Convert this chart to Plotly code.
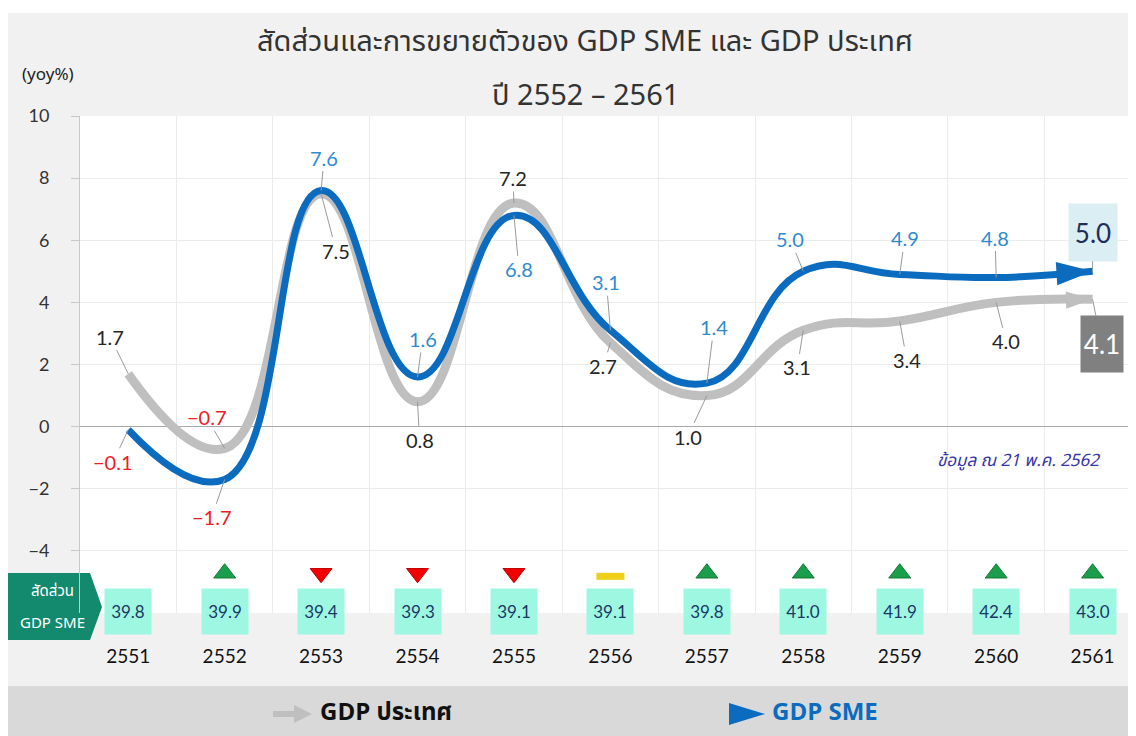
import plotly.graph_objects as go

# ---------------- data ----------------
years = ["2551", "2552", "2553", "2554", "2555", "2556", "2557", "2558", "2559", "2560", "2561"]
gdp_thai = [1.7, -0.7, 7.5, 0.8, 7.2, 2.7, 1.0, 3.1, 3.4, 4.0, 4.1]
gdp_sme = [-0.1, -1.7, 7.6, 1.6, 6.8, 3.1, 1.4, 5.0, 4.9, 4.8, 5.0]
sme_share = [39.8, 39.9, 39.4, 39.3, 39.1, 39.1, 39.8, 41.0, 41.9, 42.4, 43.0]
y_ticks = [-4, -2, 0, 2, 4, 6, 8, 10]

title_1 = "สัดส่วนและการขยายตัวของ GDP SME และ GDP ประเทศ"
title_2 = "ปี 2552 – 2561"
y_title = "(yoy%)"
note = "ข้อมูล ณ 21 พ.ค. 2562"
share_label = ["สัดส่วน", "GDP SME"]
name_thai = "GDP ประเทศ"
name_sme = "GDP SME"

# ---------------- layout geometry (page has an 8px body margin) ----------------
OX, OY = 8, 8
W, H = 1136 - OX, 736 - OY
L, R, T, B = 80 - OX, 0, 116 - OY, 736 - 613
PW, PH = W - L - R, H - T - B
SCR_L, SCR_B = 80, 613  # plot left / bottom in screen px


def px(x):  # screen px -> paper x
    return (x - SCR_L) / PW


def py(y):  # screen px -> paper y
    return (SCR_B - y) / PH


FONT = "Noto Sans Thai, Tahoma, Lato, Noto Sans, sans-serif"
NUMFONT = "Lato, Noto Sans Thai, sans-serif"

C_GRAY = "#bfbfbf"
C_BLUE = "#0b6cbf"
C_BLUE_TXT = "#2f8bd0"
C_RED = "#ee1c25"

n = len(years)
fig = go.Figure()

# gray line (GDP ประเทศ)
fig.add_trace(go.Scatter(
    x=years, y=gdp_thai, mode="lines+markers", name=name_thai,
    line=dict(color=C_GRAY, width=9, shape="spline", smoothing=1.3),
    marker=dict(symbol="arrow", angleref="previous", color=C_GRAY, opacity=1,
                line=dict(width=0), size=[0] * (n - 1) + [28]),
    showlegend=False, hoverinfo="skip"))

# blue line (GDP SME)
fig.add_trace(go.Scatter(
    x=years, y=gdp_sme, mode="lines+markers", name=name_sme,
    line=dict(color=C_BLUE, width=7, shape="spline", smoothing=1.3),
    marker=dict(symbol="arrow", angleref="previous", color=C_BLUE, opacity=1,
                line=dict(width=0), size=[0] * (n - 1) + [38]),
    showlegend=False, hoverinfo="skip"))

# share change indicators
up_x, dn_x, fl_x = [], [], []
for i in range(1, n):
    d = round(sme_share[i] - sme_share[i - 1], 1)
    (up_x if d > 0 else dn_x if d < 0 else fl_x).append(years[i])
IND_Y = -4.72
fig.add_trace(go.Scatter(x=up_x, y=[IND_Y] * len(up_x), mode="markers",
                         marker=dict(symbol="triangle-up", size=19, color="#1b9e4b",
                                     line=dict(color="#137a38", width=1)),
                         showlegend=False, hoverinfo="skip", cliponaxis=False))
fig.add_trace(go.Scatter(x=dn_x, y=[IND_Y] * len(dn_x), mode="markers",
                         marker=dict(symbol="triangle-down", size=19, color="#f00000",
                                     line=dict(color="#c00000", width=1)),
                         showlegend=False, hoverinfo="skip", cliponaxis=False))
fig.add_trace(go.Scatter(x=fl_x, y=[IND_Y - 0.1] * len(fl_x), mode="markers",
                         marker=dict(symbol="line-ew", size=20,
                                     line=dict(color="#f0cf1a", width=7)),
                         showlegend=False, hoverinfo="skip", cliponaxis=False))

annotations = []

# value labels: offsets (px) from the data point to the label
thai_off = [(-18, -37), (-18, -31), (15, 57), (2, 38), (-1, -25), (-7, 23),
            (-19, 41), (-6, 37), (7, 39), (10, 39), (9, 45)]
sme_off = [(-15, 32), (-13, 38), (3, -33), (5, -38), (5, 54), (-4, -48),
           (7, -56), (-13, -32), (5, -36), (-1, -40), (0, -39)]


def fmt(v):
    return f"{v:.1f}".replace("-", "−")


for i in range(n):
    v = gdp_thai[i]
    ax, ay = thai_off[i]
    last = i == n - 1
    a = dict(x=i, y=v, xref="x", yref="y", ax=ax, ay=ay, text=fmt(v),
             xanchor="center", yanchor="middle",
             showarrow=True, arrowhead=0, arrowwidth=1, arrowcolor="#9a9a9a",
             font=dict(family=NUMFONT, size=26 if last else 20,
                       color="white" if last else (C_RED if v < 0 else "#262626")))
    if last:
        a.update(bgcolor="#808080", width=40, height=54)
    annotations.append(a)

for i in range(n):
    v = gdp_sme[i]
    ax, ay = sme_off[i]
    last = i == n - 1
    a = dict(x=i, y=v, xref="x", yref="y", ax=ax, ay=ay, text=fmt(v),
             xanchor="center", yanchor="middle",
             showarrow=True, arrowhead=0, arrowwidth=1, arrowcolor="#9a9a9a",
             font=dict(family=NUMFONT, size=26 if last else 20,
                       color="#1f2d5c" if last else (C_RED if v < 0 else C_BLUE_TXT)))
    if last:
        a.update(bgcolor="#dbeef4", width=46, height=55)
    annotations.append(a)

# share boxes
for i in range(n):
    annotations.append(dict(
        x=i, y=py(611), xref="x", yref="paper", xanchor="center", yanchor="middle",
        text=f"{sme_share[i]:.1f}", showarrow=False,
        font=dict(family=NUMFONT, size=17, color="#1b3768"),
        bgcolor="#9ef7e1", width=44, height=43, borderpad=1))


def txt(x, y, text, size, color, xanchor="center", family=FONT):
    return dict(x=px(x), y=py(y), xref="paper", yref="paper", text=text,
                xanchor=xanchor, yanchor="middle", showarrow=False,
                font=dict(family=family, size=size, color=color))


annotations += [
    txt(585, 42, title_1, 29, "#333333"),
    txt(585, 96, title_2, 29, "#333333"),
    txt(48, 75, y_title, 17, "#222222"),
    txt(1018, 461, f"<i>{note}</i>", 17, "#3636a8"),
    txt(52, 591, share_label[0], 15, "white"),
    txt(52, 623, share_label[1], 15, "white"),
    txt(318, 713, f"<b>{name_thai}</b>", 24, "#111111", xanchor="left"),
    txt(770, 713, f"<b>{name_sme}</b>", 24, C_BLUE, xanchor="left"),
]


def rect(x0, y0, x1, y1, color, layer="below"):
    return dict(type="rect", xref="paper", yref="paper",
                x0=px(x0), x1=px(x1), y0=py(y0), y1=py(y1),
                fillcolor=color, line=dict(width=0), layer=layer)


def path(points, color):
    d = "M " + " L ".join(f"{px(a)},{py(b)}" for a, b in points) + " Z"
    return dict(type="path", xref="paper", yref="paper", path=d,
                fillcolor=color, line=dict(width=0), layer="below")


shapes = [
    rect(8, 8, 1136, 13, "white"),
    rect(8, 686, 1136, 736, "#d9d9d9"),
    path([(8, 573), (90, 573), (102, 607), (90, 640), (8, 640)], "#138a6e"),
    # legend icons
    dict(type="line", xref="paper", yref="paper", x0=px(273), x1=px(298),
         y0=py(714), y1=py(714), line=dict(color=C_GRAY, width=6), layer="below"),
    path([(294, 705), (312, 714), (294, 723)], C_GRAY),
    path([(729, 703), (765, 714), (729, 725)], C_BLUE),
]

fig.update_layout(
    width=W, height=H,
    margin=dict(l=L, r=R, t=T, b=B, pad=0),
    paper_bgcolor="#f1f1f1", plot_bgcolor="white",
    annotations=annotations, shapes=shapes,
    font=dict(family=FONT, color="#222222"),
    xaxis=dict(type="category", categoryorder="array", categoryarray=years,
               range=[-0.5, 10.45], tickson="boundaries", showgrid=True,
               gridcolor="#ebebeb", gridwidth=1, ticks="", showline=False,
               zeroline=False, ticklabelstandoff=30,
               tickfont=dict(family=NUMFONT, size=19, color="#111111")),
    yaxis=dict(range=[-6, 10], tickvals=y_ticks, showgrid=True,
               gridcolor="#ebebeb", gridwidth=1, zeroline=True,
               zerolinecolor="#a8a8a8", zerolinewidth=1,
               showline=True, linecolor="#c8c8c8", linewidth=1,
               ticks="outside", ticklen=8, tickcolor="#c8c8c8",
               ticklabelstandoff=18,
               tickfont=dict(family=NUMFONT, size=18, color="#333333")),
)

fig.write_html("out.html")
